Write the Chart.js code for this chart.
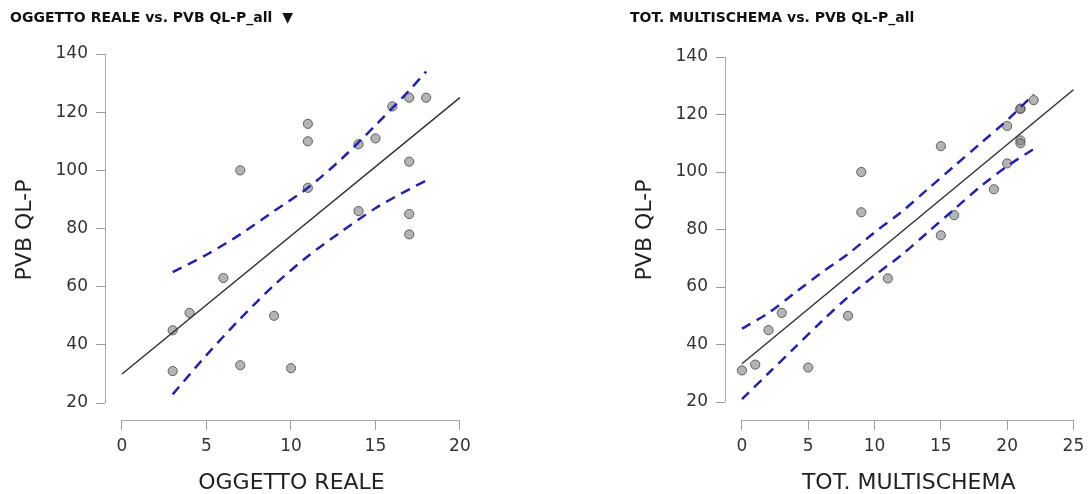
<!DOCTYPE html>
<html><head><meta charset="utf-8">
<script src="https://cdn.jsdelivr.net/npm/chart.js@4/dist/chart.umd.min.js"></script>
<style>
html,body{margin:0;padding:0;background:#fff;overflow:hidden;width:1088px;height:494px}
#wl{position:absolute;left:0;top:0;width:620px;height:494px}
#wr{position:absolute;left:620px;top:0;width:478px;height:494px}
canvas{display:block}
</style></head><body>
<div id="wl"><canvas id="cl" width="620" height="494"></canvas></div>
<div id="wr"><canvas id="cr" width="478" height="494"></canvas></div>
<script>
// ---- data ----
const oggettoReale   = [3,3,4,6,7,7,9,10,11,11,11,14,14,15,16,17,17,17,17,18];
const pvbLeft        = [31,45,51,63,100,33,50,32,116,110,94,109,86,111,122,125,103,85,78,125];
const totMultischema = [0,1,2,3,5,8,9,9,11,15,15,16,19,20,20,21,21,21,21,22];
const pvbRight       = [31,33,45,51,32,50,100,86,63,109,78,85,94,116,103,122,122,111,110,125];

const fitLeftX  = [0,20];
const fitLeftY  = [30,125];
const fitRightX = [0,25];
const fitRightY = [33.3,128.6];

const bandLeftX     = [3,5,7,9,11,13,15,17,18];
const bandLeftUpper = [65,71,78,86,94,104,115.5,127.5,134];
const bandLeftLower = [23,36.5,49,60.5,70.5,79,87,93.5,96.5];

const bandRightX     = [0,2,4,6,8,10,12,14,16,18,20,22];
const bandRightUpper = [45.5,51,58,65,71.5,79,86,94,102,110,118,127];
const bandRightLower = [21,30,39,48,56.5,64,71,79,87,95,102,108];

const yTickValues      = [20,40,60,80,100,120,140];
const xTickValuesLeft  = [0,5,10,15,20];
const xTickValuesRight = [0,5,10,15,20,25];

const titleLeft  = 'OGGETTO REALE vs. PVB QL-P_all  \u25BC';
const titleRight = 'TOT. MULTISCHEMA vs. PVB QL-P_all';
const xLabelLeft  = 'OGGETTO REALE';
const xLabelRight = 'TOT. MULTISCHEMA';
const yLabel = 'PVB QL-P';

// ---- rendering ----
const FAMILY = '"DejaVu Sans", "Liberation Sans", sans-serif';
const toXY = (xs, ys) => xs.map((x, i) => ({x: x, y: ys[i]}));

const axisLinePlugin = {
  id: 'axisLines',
  afterDraw(chart) {
    const ctx = chart.ctx, x = chart.scales.x, y = chart.scales.y, ca = chart.chartArea;
    ctx.save();
    ctx.strokeStyle = '#a8a8a8';
    ctx.lineWidth = 1;
    ctx.beginPath();
    const yt = y.ticks, xt = x.ticks;
    const lx = Math.round(ca.left) + 0.5;
    ctx.moveTo(lx, y.getPixelForValue(yt[0].value));
    ctx.lineTo(lx, y.getPixelForValue(yt[yt.length - 1].value));
    const by = Math.round(ca.bottom) + 0.5;
    ctx.moveTo(x.getPixelForValue(xt[0].value), by);
    ctx.lineTo(x.getPixelForValue(xt[xt.length - 1].value), by);
    ctx.stroke();
    ctx.restore();
  }
};

function build(canvasId, p) {
  const fitDs = {data: toXY(p.fitX, p.fitY), showLine: true, borderColor: '#333333', borderWidth: 1.5,
                 pointRadius: 0, fill: false};
  const bandStyle = {showLine: true, borderColor: '#2222b0', borderWidth: 2.5, borderDash: [10, 7],
                     pointRadius: 0, fill: false, tension: 0.3};
  const upDs = Object.assign({data: toXY(p.bandX, p.bandU)}, bandStyle);
  const loDs = Object.assign({data: toXY(p.bandX, p.bandL)}, bandStyle);
  const ptDs = {data: toXY(p.px, p.py), showLine: false, pointRadius: 4.6, pointHoverRadius: 4.6,
                backgroundColor: 'rgba(125,125,125,0.58)', borderColor: 'rgba(75,75,75,0.85)', borderWidth: 1};
  return new Chart(document.getElementById(canvasId), {
    type: 'scatter',
    data: {datasets: [upDs, loDs, fitDs, ptDs]},
    plugins: [axisLinePlugin],
    options: {
      responsive: false, animation: false, devicePixelRatio: 1,
      layout: {padding: {left: 10, right: p.padRight, top: 0, bottom: 0}},
      plugins: {
        legend: {display: false}, tooltip: {enabled: false},
        title: {display: true, text: p.title, align: 'start', color: '#111',
                font: {family: FAMILY, size: 14, weight: 'bold', lineHeight: 1.2},
                padding: {top: 10, bottom: 13.2}}
      },
      scales: {
        x: {type: 'linear', min: p.xMin, max: p.xMax,
            afterBuildTicks: s => { s.ticks = p.xTicks.map(v => ({value: v})); },
            afterFit: s => { s.height = 74; },
            grid: {drawOnChartArea: false, drawTicks: true, tickLength: 10, color: '#9c9c9c', lineWidth: 1},
            border: {display: false},
            ticks: {font: {family: FAMILY, size: 17}, color: '#333', padding: 6, maxRotation: 0, autoSkip: false},
            title: {display: true, text: p.xLabel, color: '#222',
                    font: {family: FAMILY, size: 22, lineHeight: 1}, padding: {top: 0, bottom: 0}}},
        y: {type: 'linear', min: p.yMin, max: p.yMax,
            afterBuildTicks: s => { s.ticks = yTickValues.map(v => ({value: v})); },
            afterFit: s => { s.width = 95; },
            grid: {drawOnChartArea: false, drawTicks: true, tickLength: 9, color: '#9c9c9c', lineWidth: 1},
            border: {display: false},
            ticks: {font: {family: FAMILY, size: 17}, color: '#333', padding: 8},
            title: {display: true, text: yLabel, color: '#222',
                    font: {family: FAMILY, size: 22, lineHeight: 1}, padding: {top: 4.5, bottom: 0}}}
      }
    }
  });
}

build('cl', {
  title: titleLeft, xLabel: xLabelLeft, padRight: 142,
  xMin: -1.006, xMax: 21.07, yMin: 14.17, yMax: 144.83, xTicks: xTickValuesLeft,
  px: oggettoReale, py: pvbLeft, fitX: fitLeftX, fitY: fitLeftY,
  bandX: bandLeftX, bandU: bandLeftUpper, bandL: bandLeftLower
});
build('cr', {
  title: titleRight, xLabel: xLabelRight, padRight: 5,
  xMin: -1.28, xMax: 26.43, yMin: 13.74, yMax: 145.92, xTicks: xTickValuesRight,
  px: totMultischema, py: pvbRight, fitX: fitRightX, fitY: fitRightY,
  bandX: bandRightX, bandU: bandRightUpper, bandL: bandRightLower
});
</script>
</body></html>
